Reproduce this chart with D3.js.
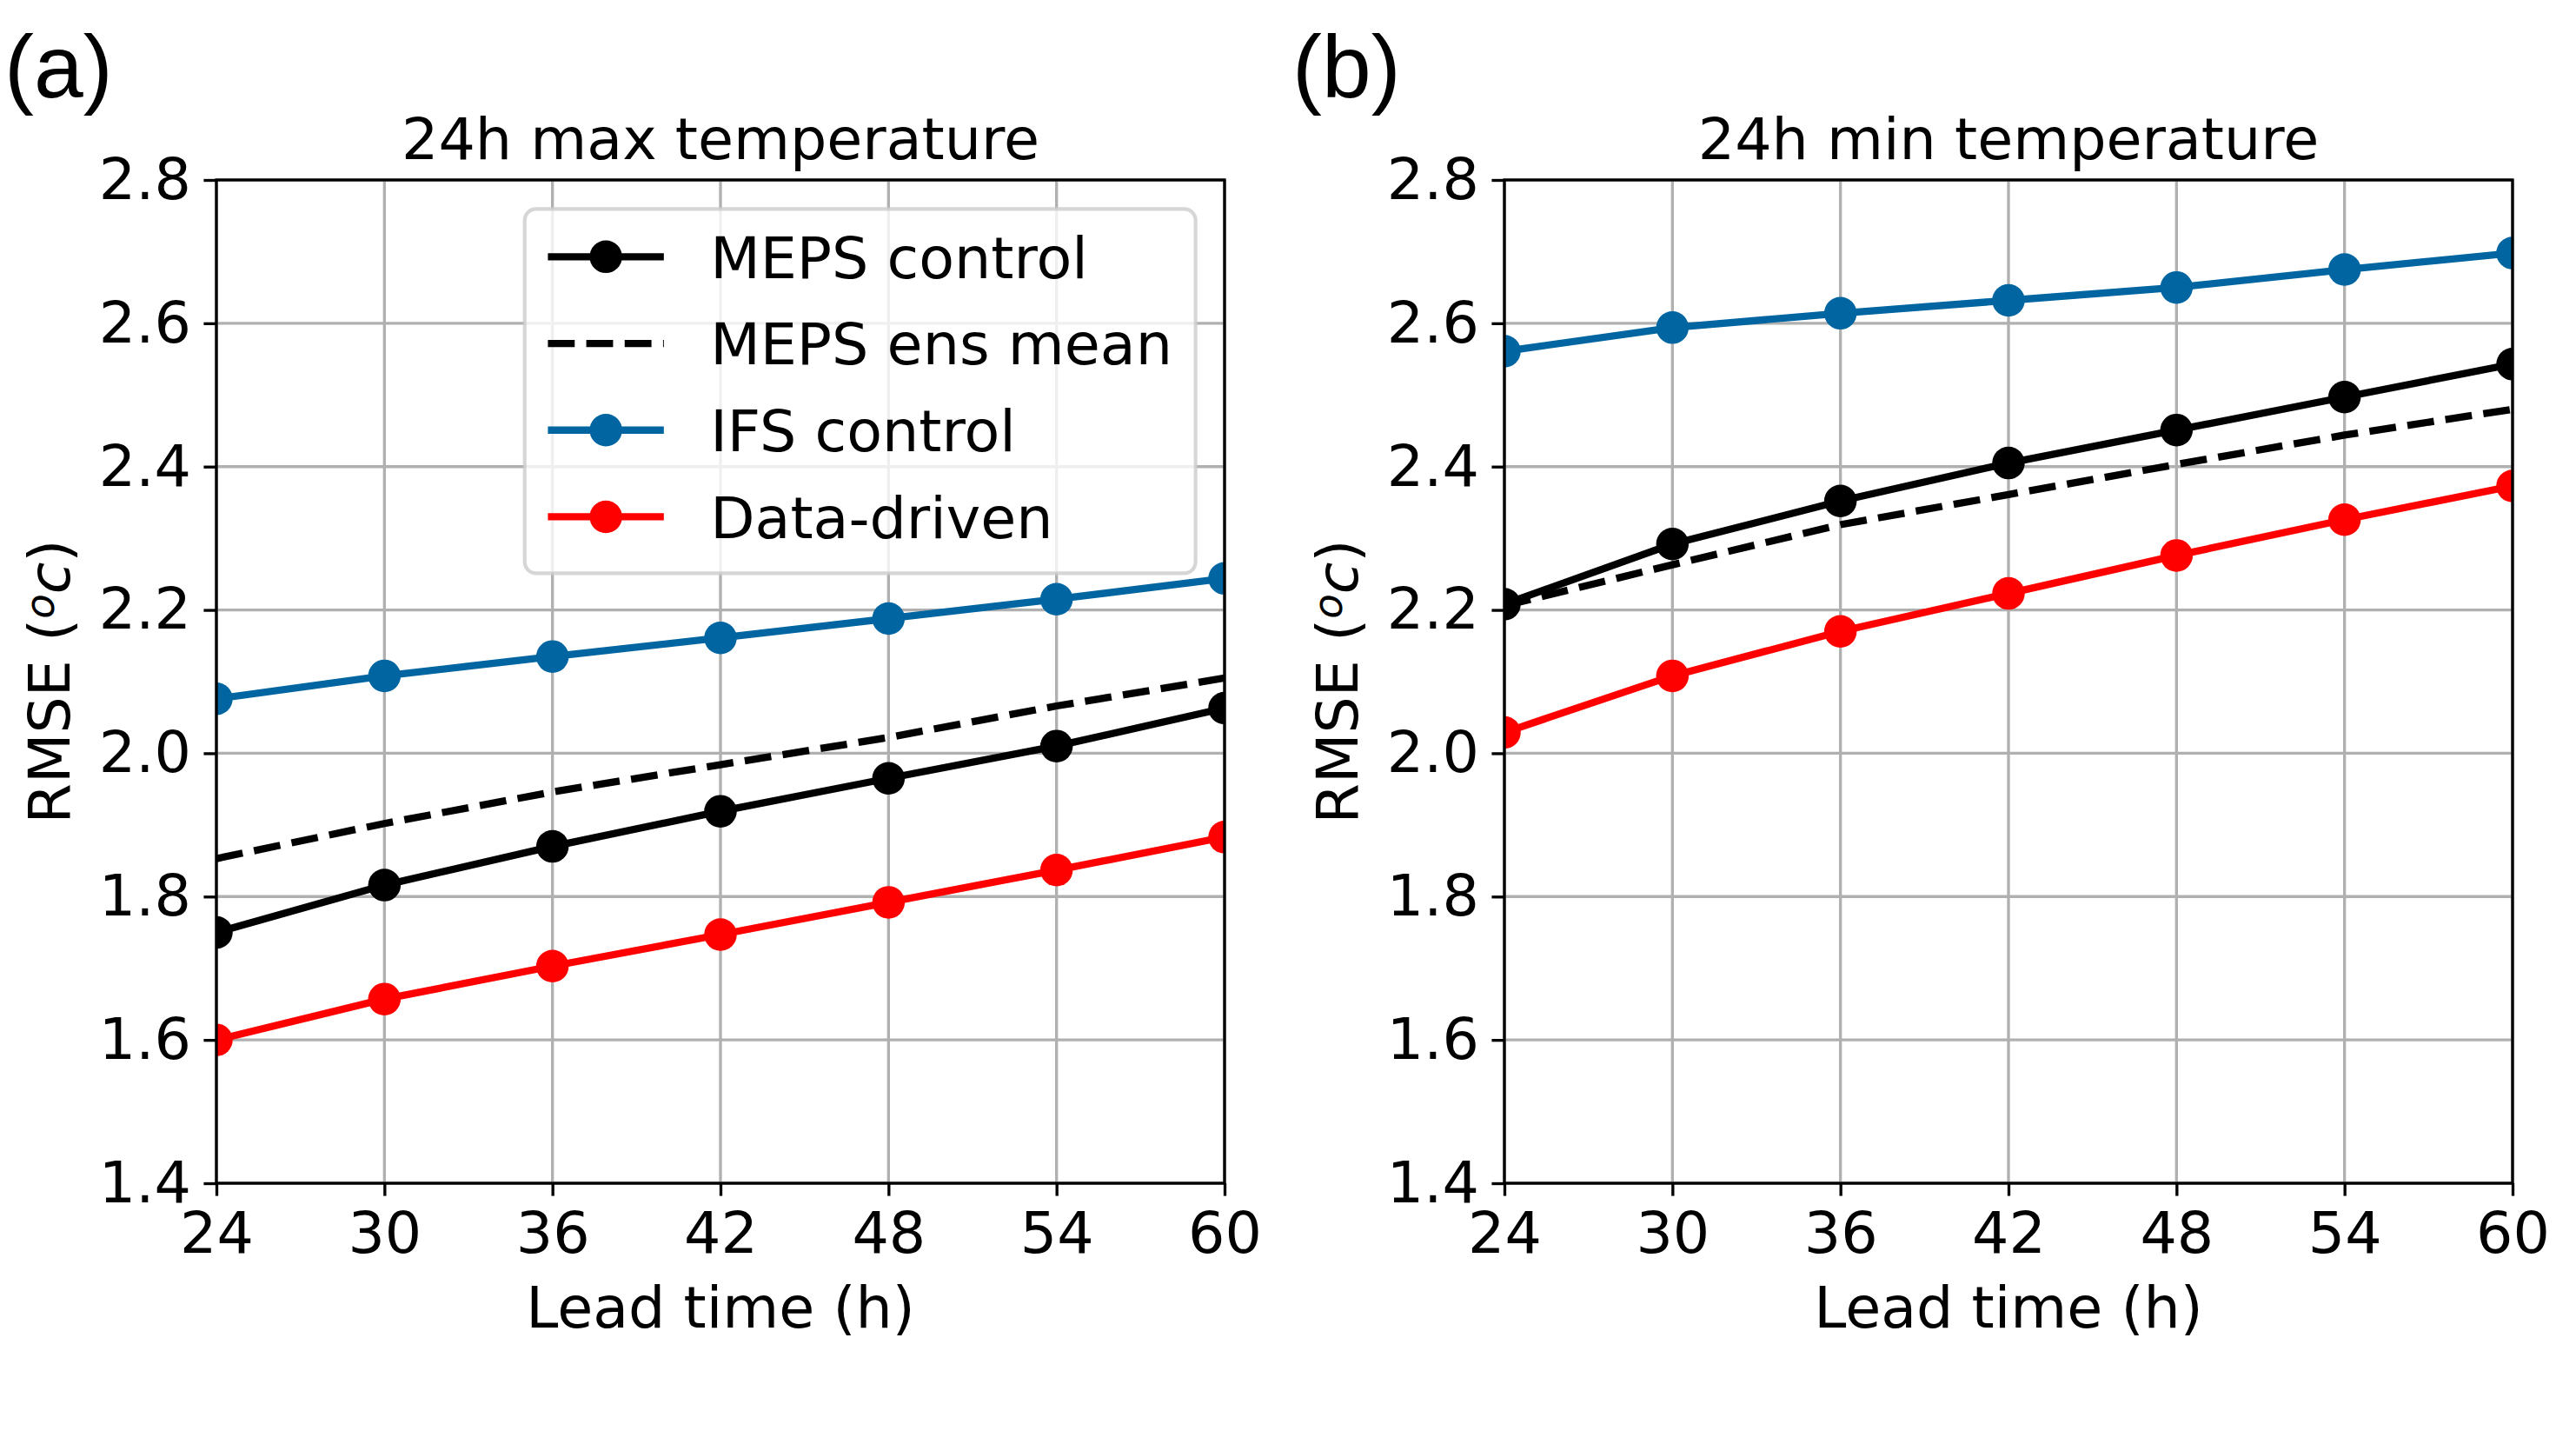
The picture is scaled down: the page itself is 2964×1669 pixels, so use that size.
<!DOCTYPE html>
<html>
<head>
<meta charset="utf-8">
<script src="https://cdn.jsdelivr.net/npm/d3@7"></script>
<style>
  body { margin: 0; background: #fff; }
  text { font-family: "DejaVu Sans", sans-serif; fill: #000; }
</style>
</head>
<body>
<div id="chart"></div>
<script>
// lead times (h) on the x axis
var leadTimes = [24, 30, 36, 42, 48, 54, 60];
var yTicks = [1.4, 1.6, 1.8, 2.0, 2.2, 2.4, 2.6, 2.8];

// (a) 24h max temperature
var maxMepsControl = [1.750, 1.816, 1.870, 1.919, 1.965, 2.010, 2.063];
var maxMepsEnsMean = [1.853, 1.902, 1.946, 1.984, 2.022, 2.066, 2.105];
var maxIfsControl  = [2.076, 2.108, 2.135, 2.161, 2.188, 2.215, 2.244];
var maxDataDriven  = [1.600, 1.657, 1.703, 1.747, 1.792, 1.837, 1.883];

// (b) 24h min temperature
var minMepsControl = [2.208, 2.292, 2.352, 2.405, 2.451, 2.497, 2.543];
var minMepsEnsMean = [2.206, 2.263, 2.319, 2.361, 2.403, 2.444, 2.480];
var minIfsControl  = [2.561, 2.594, 2.614, 2.632, 2.650, 2.675, 2.698];
var minDataDriven  = [2.029, 2.108, 2.170, 2.223, 2.276, 2.326, 2.373];

var seriesNames = ["MEPS control", "MEPS ens mean", "IFS control", "Data-driven"];

var W = 2964, H = 1669;
var fs = 66.7;               // 16pt at 300 dpi
var pt = 300 / 72;
var plotW = 1160, plotH = 1154;

var svg = d3.select("#chart").append("svg")
    .attr("width", W)
    .attr("height", H);
svg.append("rect").attr("width", W).attr("height", H).attr("fill", "#fff");

var styles = [
  { color: "#000000", dash: null, marker: true },
  { color: "#000000", dash: (3.7 * 2 * pt) + "," + (1.6 * 2 * pt), marker: false },
  { color: "#0065a1", dash: null, marker: true },
  { color: "#ff0000", dash: null, marker: true }
];

function drawPanel(left, top, id, letter, title, series, withLegend) {
  var x = d3.scaleLinear().domain([24, 60]).range([0, plotW]);
  var y = d3.scaleLinear().domain([1.4, 2.8]).range([plotH, 0]);

  var g = svg.append("g").attr("transform", "translate(" + left + "," + top + ")");

  g.append("clipPath").attr("id", "clip" + id)
    .append("rect").attr("width", plotW).attr("height", plotH);

  // grid
  g.append("g").selectAll("line.gx").data(leadTimes).enter().append("line")
      .attr("x1", function(d) { return x(d); }).attr("x2", function(d) { return x(d); })
      .attr("y1", 0).attr("y2", plotH)
      .attr("stroke", "#b0b0b0").attr("stroke-width", 0.8 * pt);
  g.append("g").selectAll("line.gy").data(yTicks).enter().append("line")
      .attr("y1", function(d) { return y(d); }).attr("y2", function(d) { return y(d); })
      .attr("x1", 0).attr("x2", plotW)
      .attr("stroke", "#b0b0b0").attr("stroke-width", 0.8 * pt);

  // lines + markers
  var line = d3.line()
      .x(function(d, i) { return x(leadTimes[i]); })
      .y(function(d) { return y(d); });

  var marks = g.append("g").attr("clip-path", "url(#clip" + id + ")");
  series.forEach(function(s, k) {
    var st = styles[k];
    marks.append("path")
        .datum(s)
        .attr("d", line)
        .attr("fill", "none")
        .attr("stroke", st.color)
        .attr("stroke-width", 2 * pt)
        .attr("stroke-dasharray", st.dash);
    if (st.marker) {
      marks.selectAll(null).data(s).enter().append("circle")
          .attr("cx", function(d, i) { return x(leadTimes[i]); })
          .attr("cy", function(d) { return y(d); })
          .attr("r", 4.5 * pt)
          .attr("fill", st.color);
    }
  });

  // axes
  var xAxis = d3.axisBottom(x).tickValues(leadTimes).tickSize(3.5 * pt).tickPadding(3.5 * pt)
      .tickFormat(d3.format("d"));
  var yAxis = d3.axisLeft(y).tickValues(yTicks).tickSize(3.5 * pt).tickPadding(3.5 * pt)
      .tickFormat(d3.format(".1f"));

  var gx = g.append("g").attr("transform", "translate(0," + plotH + ")").call(xAxis);
  var gy = g.append("g").call(yAxis);
  [gx, gy].forEach(function(a) {
    a.select(".domain").remove();
    a.selectAll(".tick line").attr("stroke", "#000").attr("stroke-width", 0.8 * pt);
    a.selectAll(".tick text").attr("fill", "#000")
        .style("font-family", "DejaVu Sans").style("font-size", fs + "px");
  });
  gx.selectAll(".tick text").attr("dy", "0.76em");

  // spines
  g.append("rect")
      .attr("width", plotW).attr("height", plotH)
      .attr("fill", "none").attr("stroke", "#000").attr("stroke-width", 0.8 * pt);

  // titles / labels
  g.append("text")
      .attr("x", plotW / 2).attr("y", -24)
      .attr("text-anchor", "middle")
      .style("font-size", fs + "px")
      .text(title);

  g.append("text")
      .attr("x", plotW / 2).attr("y", plotH + 166)
      .attr("text-anchor", "middle")
      .style("font-size", fs + "px")
      .text("Lead time (h)");

  var yl = g.append("text")
      .attr("transform", "translate(" + (80 - 249) + "," + (plotH / 2) + ") rotate(-90)")
      .attr("text-anchor", "middle")
      .style("font-size", fs + "px");
  yl.append("tspan").text("RMSE (");
  yl.append("tspan").attr("font-style", "italic").attr("baseline-shift", "38%")
      .style("font-size", (fs * 0.7) + "px").text("o");
  yl.append("tspan").attr("font-style", "italic").text("c");
  yl.append("tspan").text(")");

  // panel letter
  g.append("text")
      .attr("x", 5 - 249).attr("y", 112 - top)
      .style("font-family", "'Liberation Sans', Arial, sans-serif")
      .style("font-size", "102px")
      .text(letter);

  if (withLegend) drawLegend(g);
}

function drawLegend(g) {
  var pad = 0.4 * fs, handle = 2 * fs, gap = 0.8 * fs, rowH = 99.7;
  var lg = g.append("g");
  var box = lg.append("rect").attr("rx", 13).attr("ry", 13)
      .attr("fill", "#fff").attr("fill-opacity", 0.8)
      .attr("stroke", "#cccccc").attr("stroke-opacity", 0.8)
      .attr("stroke-width", 1 * pt);

  var maxW = 0;
  seriesNames.forEach(function(name, i) {
    var cy = 55 + i * rowH;
    var st = styles[i];
    lg.append("line")
        .attr("x1", pad).attr("x2", pad + handle)
        .attr("y1", cy).attr("y2", cy)
        .attr("stroke", st.color).attr("stroke-width", 2 * pt)
        .attr("stroke-dasharray", st.dash);
    if (st.marker) {
      lg.append("circle").attr("cx", pad + handle / 2).attr("cy", cy)
          .attr("r", 4.5 * pt).attr("fill", st.color);
    }
    var t = lg.append("text")
        .attr("x", pad + handle + gap).attr("y", cy + 0.365 * fs)
        .style("font-size", fs + "px")
        .text(name);
    maxW = Math.max(maxW, t.node().getComputedTextLength());
  });

  var bw = pad + handle + gap + maxW + pad;
  var bh = 419;
  box.attr("width", bw).attr("height", bh);
  var bx = plotW - 0.5 * fs - bw, by = 0.5 * fs;
  lg.attr("transform", "translate(" + bx + "," + by + ")");
}

drawPanel(249, 207, "a", "(a)", "24h max temperature",
  [maxMepsControl, maxMepsEnsMean, maxIfsControl, maxDataDriven], true);
drawPanel(1731, 207, "b", "(b)", "24h min temperature",
  [minMepsControl, minMepsEnsMean, minIfsControl, minDataDriven], false);
</script>
</body>
</html>
